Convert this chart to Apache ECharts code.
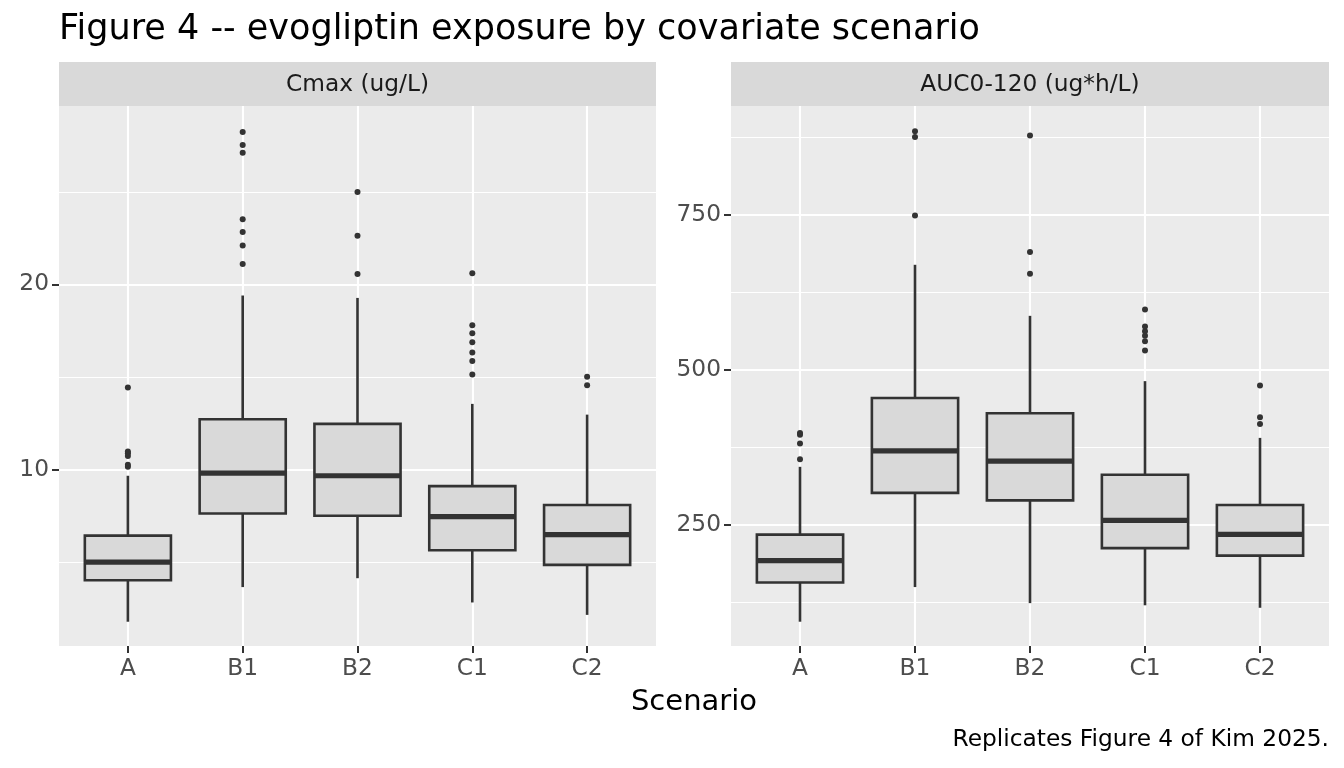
<!DOCTYPE html>
<html>
<head>
<meta charset="utf-8">
<script src="https://cdn.jsdelivr.net/npm/echarts@6/dist/echarts.min.js"></script>
<style>
html,body{margin:0;padding:0;background:#fff;}
#chart{width:1344px;height:768px;}
</style>
</head>
<body>
<div id="chart"></div>
<script>
// ---- data ----
const categories = ['A', 'B1', 'B2', 'C1', 'C2'];

// Cmax (ug/L) box statistics
const cmaxLow  = [1.79, 3.66, 4.14, 2.83, 2.16];
const cmaxQ1   = [4.03, 7.63, 7.51, 5.65, 4.86];
const cmaxMed  = [5.01, 9.81, 9.67, 7.46, 6.49];
const cmaxQ3   = [6.44, 12.72, 12.47, 9.11, 8.09];
const cmaxHigh = [9.67, 19.40, 19.27, 13.55, 12.97];
const cmaxOutA  = [10.15, 10.27, 10.73, 10.89, 10.98, 14.43];
const cmaxOutB1 = [21.10, 22.10, 22.83, 23.51, 27.11, 27.53, 28.23];
const cmaxOutB2 = [20.56, 22.62, 24.99];
const cmaxOutC1 = [15.13, 15.86, 16.32, 16.88, 17.36, 17.80, 20.60];
const cmaxOutC2 = [14.55, 15.01];

// AUC0-120 (ug*h/L) box statistics
const aucLow  = [93.3, 149.2, 123.3, 119.8, 115.8];
const aucQ1   = [156.7, 301.3, 289.2, 212.0, 199.9];
const aucMed  = [191.8, 369.2, 352.5, 256.9, 234.4];
const aucQ3   = [233.9, 454.5, 429.7, 330.6, 281.7];
const aucHigh = [343.3, 669.4, 587.0, 481.6, 390.0];
const aucOutA  = [355.4, 380.8, 395.0, 398.0];
const aucOutB1 = [748.8, 875.6, 884.8];
const aucOutB2 = [655.0, 690.0, 877.9];
const aucOutC1 = [531.1, 546.1, 554.7, 562.2, 569.7, 597.4];
const aucOutC2 = [412.4, 423.4, 474.7];

const cmaxTicks = [10, 20];
const cmaxMinor = [5, 15, 25];
const aucTicks = [250, 500, 750];
const aucMinor = [125, 375, 625, 875];

const titleText = 'Figure 4 -- evogliptin exposure by covariate scenario';
const stripLabels = ['Cmax (ug/L)', 'AUC0-120 (ug*h/L)'];
const xTitle = 'Scenario';
const captionText = 'Replicates Figure 4 of Kim 2025.';

// ---- build ----
function boxRows(lo, q1, md, q3, hi) {
  return categories.map((c, i) => [i + 1, lo[i], q1[i], md[i], q3[i], hi[i]]);
}
function outRows(lists) {
  const rows = [];
  lists.forEach((l, i) => l.forEach(v => rows.push([i + 1, v])));
  return rows;
}

const FONT = 'DejaVu Sans';
const DARK = '#333333';
const SMALL = 23.3;

function renderBox(params, api) {
  const x = api.value(0);
  const lo = api.coord([x, api.value(1)]);
  const q1 = api.coord([x, api.value(2)]);
  const md = api.coord([x, api.value(3)]);
  const q3 = api.coord([x, api.value(4)]);
  const hi = api.coord([x, api.value(5)]);
  const hw = api.size([0.75, 0])[0] / 2;
  const ls = {stroke: DARK, lineWidth: 2.6};
  return {
    type: 'group',
    children: [
      {type: 'line', shape: {x1: lo[0], y1: lo[1], x2: q1[0], y2: q1[1]}, style: ls},
      {type: 'line', shape: {x1: q3[0], y1: q3[1], x2: hi[0], y2: hi[1]}, style: ls},
      {type: 'rect', shape: {x: q3[0] - hw, y: q3[1], width: 2 * hw, height: q1[1] - q3[1]},
        style: {fill: '#D9D9D9', stroke: DARK, lineWidth: 2.6}},
      {type: 'line', shape: {x1: md[0] - hw, y1: md[1], x2: md[0] + hw, y2: md[1]},
        style: {stroke: DARK, lineWidth: 5.2}}
    ]
  };
}

function xAxisDef(gridIndex) {
  return {
    type: 'value', gridIndex: gridIndex, min: 0.4, max: 5.6,
    axisLine: {show: false},
    axisTick: {show: true, length: 7, lineStyle: {color: DARK, width: 2}, customValues: [1, 2, 3, 4, 5]},
    axisLabel: {customValues: [1, 2, 3, 4, 5], formatter: v => categories[Math.round(v) - 1] || '',
      color: '#4D4D4D', fontFamily: FONT, fontSize: SMALL, margin: 11},
    splitLine: {show: true, lineStyle: {color: '#FFFFFF', width: 2.1}}
  };
}
function yAxisMajor(gridIndex, min, max, ticks) {
  return {
    type: 'value', gridIndex: gridIndex, min: min, max: max,
    axisLine: {show: false},
    axisTick: {show: true, length: 7, lineStyle: {color: DARK, width: 2}, customValues: ticks},
    axisLabel: {customValues: ticks, color: '#4D4D4D', fontFamily: FONT, fontSize: SMALL, margin: 10},
    splitLine: {show: true, lineStyle: {color: '#FFFFFF', width: 2.1}}
  };
}
function yAxisMinor(gridIndex, min, max, ticks) {
  return {
    type: 'value', gridIndex: gridIndex, min: min, max: max, position: 'left',
    axisLine: {show: false},
    axisTick: {show: false, customValues: ticks},
    axisLabel: {show: false, customValues: ticks},
    splitLine: {show: true, lineStyle: {color: '#FFFFFF', width: 1.05}}
  };
}

const chart = echarts.init(document.getElementById('chart'), null, {renderer: 'canvas'});

const grids = [
  {left: 59, top: 106, width: 597, height: 540, show: true, backgroundColor: '#EBEBEB', borderWidth: 0},
  {left: 731, top: 106, width: 598, height: 540, show: true, backgroundColor: '#EBEBEB', borderWidth: 0}
];

const option = {
  animation: false,
  backgroundColor: '#FFFFFF',
  grid: grids,
  xAxis: [xAxisDef(0), xAxisDef(1)],
  yAxis: [
    yAxisMajor(0, 0.48, 29.63, cmaxTicks),
    yAxisMinor(0, 0.48, 29.63, cmaxMinor),
    yAxisMajor(1, 54.1, 925.7, aucTicks),
    yAxisMinor(1, 54.1, 925.7, aucMinor)
  ],
  series: [
    {type: 'custom', xAxisIndex: 0, yAxisIndex: 0, renderItem: renderBox, clip: true, z: 3,
      encode: {x: 0, y: [1, 2, 3, 4, 5]},
      data: boxRows(cmaxLow, cmaxQ1, cmaxMed, cmaxQ3, cmaxHigh)},
    {type: 'scatter', xAxisIndex: 0, yAxisIndex: 0, symbol: 'circle', symbolSize: 6, z: 4,
      itemStyle: {color: DARK, opacity: 1},
      data: outRows([cmaxOutA, cmaxOutB1, cmaxOutB2, cmaxOutC1, cmaxOutC2])},
    {type: 'custom', xAxisIndex: 1, yAxisIndex: 2, renderItem: renderBox, clip: true, z: 3,
      encode: {x: 0, y: [1, 2, 3, 4, 5]},
      data: boxRows(aucLow, aucQ1, aucMed, aucQ3, aucHigh)},
    {type: 'scatter', xAxisIndex: 1, yAxisIndex: 2, symbol: 'circle', symbolSize: 6, z: 4,
      itemStyle: {color: DARK, opacity: 1},
      data: outRows([aucOutA, aucOutB1, aucOutB2, aucOutC1, aucOutC2])}
  ],
  graphic: [
    {type: 'text', x: 59, y: 30, style: {text: titleText, fill: '#000000', font: '35px "DejaVu Sans"', verticalAlign: 'middle'}},
    {type: 'rect', shape: {x: 59, y: 62, width: 597, height: 44}, style: {fill: '#D9D9D9'}},
    {type: 'rect', shape: {x: 731, y: 62, width: 598, height: 44}, style: {fill: '#D9D9D9'}},
    {type: 'text', x: 357.5, y: 85, style: {text: stripLabels[0], fill: '#1A1A1A', font: SMALL + 'px "DejaVu Sans"', align: 'center', verticalAlign: 'middle'}},
    {type: 'text', x: 1030, y: 85, style: {text: stripLabels[1], fill: '#1A1A1A', font: SMALL + 'px "DejaVu Sans"', align: 'center', verticalAlign: 'middle'}},
    {type: 'text', x: 694, y: 702, style: {text: xTitle, fill: '#000000', font: '29px "DejaVu Sans"', align: 'center', verticalAlign: 'middle'}},
    {type: 'text', x: 1329, y: 740, style: {text: captionText, fill: '#000000', font: SMALL + 'px "DejaVu Sans"', align: 'right', verticalAlign: 'middle'}}
  ]
};
chart.setOption(option);
</script>
</body>
</html>
